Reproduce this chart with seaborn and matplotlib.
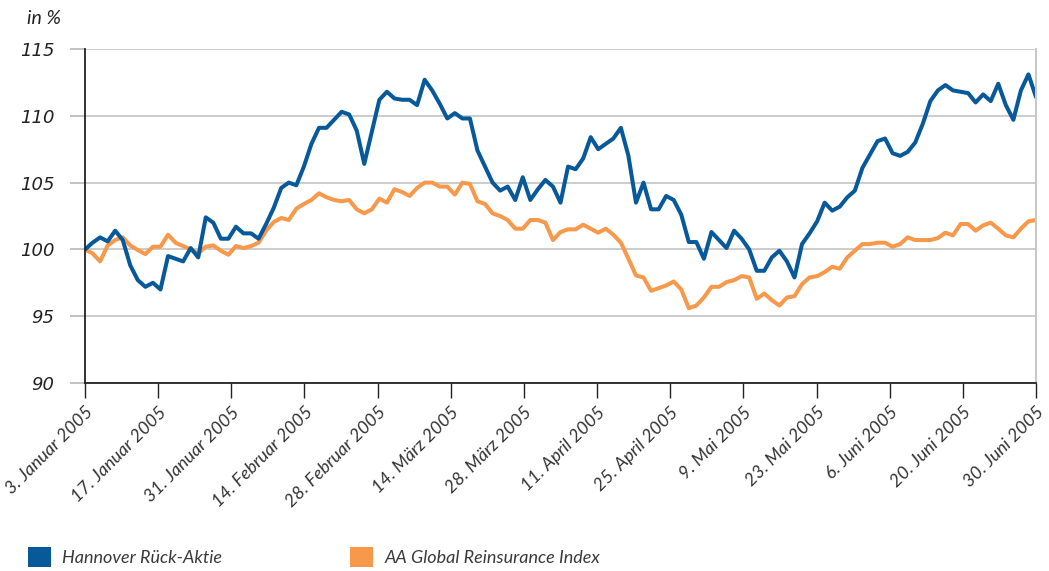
import numpy as np
import pandas as pd
import matplotlib.pyplot as plt
import matplotlib.transforms as mtrans
from matplotlib.patches import Patch
import seaborn as sns

hannover = [100.0, 100.5, 100.9, 100.6, 101.4, 100.7, 98.8, 97.7, 97.2, 97.5,
            97.0, 99.5, 99.3, 99.1, 100.1, 99.4, 102.4, 102.0, 100.8, 100.8,
            101.7, 101.2, 101.2, 100.8, 101.9, 103.1, 104.6, 105.0, 104.8, 106.2,
            107.9, 109.1, 109.1, 109.7, 110.3, 110.1, 108.9, 106.4, 108.8, 111.2,
            111.8, 111.3, 111.2, 111.2, 110.8, 112.7, 111.9, 110.9, 109.8, 110.2,
            109.8, 109.8, 107.4, 106.2, 105.0, 104.4, 104.7, 103.7, 105.4, 103.7,
            104.5, 105.2, 104.7, 103.5, 106.2, 106.0, 106.8, 108.4, 107.5, 107.9,
            108.3, 109.1, 107.0, 103.5, 105.0, 103.0, 103.0, 104.0, 103.7, 102.6,
            100.55, 100.55, 99.3, 101.3, 100.7, 100.1, 101.4, 100.8, 100.0, 98.4,
            98.4, 99.4, 99.9, 99.1, 97.9, 100.4, 101.2, 102.1, 103.5, 102.9,
            103.2, 103.9, 104.4, 106.1, 107.1, 108.1, 108.3, 107.2, 107.0, 107.3,
            108.0, 109.4, 111.1, 111.9, 112.3, 111.9, 111.8, 111.7, 111.0, 111.6,
            111.1, 112.4, 110.8, 109.7, 111.9, 113.1, 111.4]

aa_index = [100.0, 99.7, 99.1, 100.3, 100.7, 100.9, 100.3, 99.95, 99.65, 100.2,
            100.2, 101.1, 100.5, 100.25, 100.0, 99.7, 100.2, 100.3, 99.9, 99.6,
            100.25, 100.1, 100.25, 100.5, 101.4, 102.05, 102.35, 102.2, 103.05, 103.4,
            103.7, 104.2, 103.9, 103.7, 103.6, 103.7, 103.0, 102.7, 103.0, 103.8,
            103.5, 104.5, 104.3, 104.0, 104.6, 105.0, 105.0, 104.7, 104.7, 104.1,
            105.0, 104.9, 103.6, 103.4, 102.7, 102.5, 102.2, 101.55, 101.55, 102.2,
            102.2, 102.0, 100.7, 101.3, 101.5, 101.5, 101.85, 101.55, 101.25, 101.55,
            101.1, 100.5, 99.3, 98.05, 97.9, 96.9, 97.1, 97.3, 97.6, 97.0,
            95.6, 95.8, 96.4, 97.2, 97.2, 97.55, 97.7, 98.0, 97.9, 96.3,
            96.7, 96.2, 95.8, 96.4, 96.5, 97.4, 97.9, 98.0, 98.3, 98.7,
            98.55, 99.4, 99.9, 100.4, 100.4, 100.5, 100.5, 100.2, 100.4, 100.9,
            100.7, 100.7, 100.7, 100.85, 101.25, 101.05, 101.9, 101.9, 101.4, 101.8,
            102.0, 101.55, 101.05, 100.9, 101.55, 102.1, 102.2]

tick_labels = ["3. Januar 2005", "17. Januar 2005", "31. Januar 2005",
               "14. Februar 2005", "28. Februar 2005", "14. März 2005",
               "28. März 2005", "11. April 2005", "25. April 2005", "9. Mai 2005",
               "23. Mai 2005", "6. Juni 2005", "20. Juni 2005", "30. Juni 2005"]
y_ticks = [90, 95, 100, 105, 110, 115]

namen = ["Hannover Rück-Aktie", "AA Global Reinsurance Index"]
blau = "#07599a"
orange = "#f7984a"

sns.set_theme(style="white")
plt.rcParams['font.family'] = ['Lato', 'DejaVu Sans']

df = pd.DataFrame({"Tag": range(len(hannover)), namen[0]: hannover, namen[1]: aa_index})
lang = df.melt(id_vars="Tag", var_name="Serie", value_name="Wert")

fig = plt.figure(figsize=(10.49, 5.71), dpi=100)
ax = fig.add_axes([85/1049, 1-383/571, (1036-85)/1049, (383-49)/571])

# orange zuerst, blau liegt oben
sns.lineplot(data=lang, x="Tag", y="Wert", hue="Serie", hue_order=[namen[1], namen[0]],
             palette=[orange, blau], linewidth=2.9, ax=ax, legend=False)

ax.set_xlim(0, len(hannover) - 1)
ax.set_ylim(90, 115)
ax.set_xlabel("")
ax.set_ylabel("")

ax.set_yticks(y_ticks)
ax.set_yticklabels([str(v) for v in y_ticks], fontstyle="italic", fontsize=13,
                   family=["DejaVu Sans"], color="#222222")
ax.set_xticks(np.linspace(0, len(hannover) - 1, len(tick_labels)))
ax.set_xticklabels(tick_labels, rotation=45, ha="right", rotation_mode="anchor",
                   fontstyle="italic", fontsize=13, color="#333333")
# Beschriftung etwas nach rechts oben schieben
verschiebung = mtrans.ScaledTranslation(7/100, 6/100, fig.dpi_scale_trans)
for lab in ax.get_xticklabels():
    lab.set_transform(lab.get_transform() + verschiebung)

ax.grid(axis="y", color="#c4c4c4", linewidth=1.2)
ax.tick_params(axis="y", length=11, width=1.2, color="#b8b8b8", pad=11, left=True)
ax.tick_params(axis="x", length=11, width=1.0, color="#222222", pad=4, bottom=True)

for s in ["left", "bottom"]:
    ax.spines[s].set_color("#222222")
    ax.spines[s].set_linewidth(1.3)
ax.spines["top"].set_visible(False)
ax.spines["right"].set_color("#c8c8c8")
ax.spines["right"].set_linewidth(1.5)

fig.text(27/1049, 1-19/571, "in %", fontstyle="italic", fontsize=14, color="#222222", va="center")

# Legende unten, zwei Einträge getrennt platziert
for i, (name, farbe) in enumerate([(namen[0], blau), (namen[1], orange)]):
    x0 = [28, 350][i] / 1049
    leg = fig.legend(handles=[Patch(facecolor=farbe, edgecolor="none")], labels=[name],
                     loc="center left", bbox_to_anchor=(x0, 1-557/571), frameon=False,
                     borderpad=0, borderaxespad=0, handlelength=1.3, handleheight=1.3,
                     handletextpad=0.6, prop={"style": "italic", "size": 13})
    for t in leg.get_texts():
        t.set_color("#3a3a3a")

fig.savefig("out.png", dpi=100)
